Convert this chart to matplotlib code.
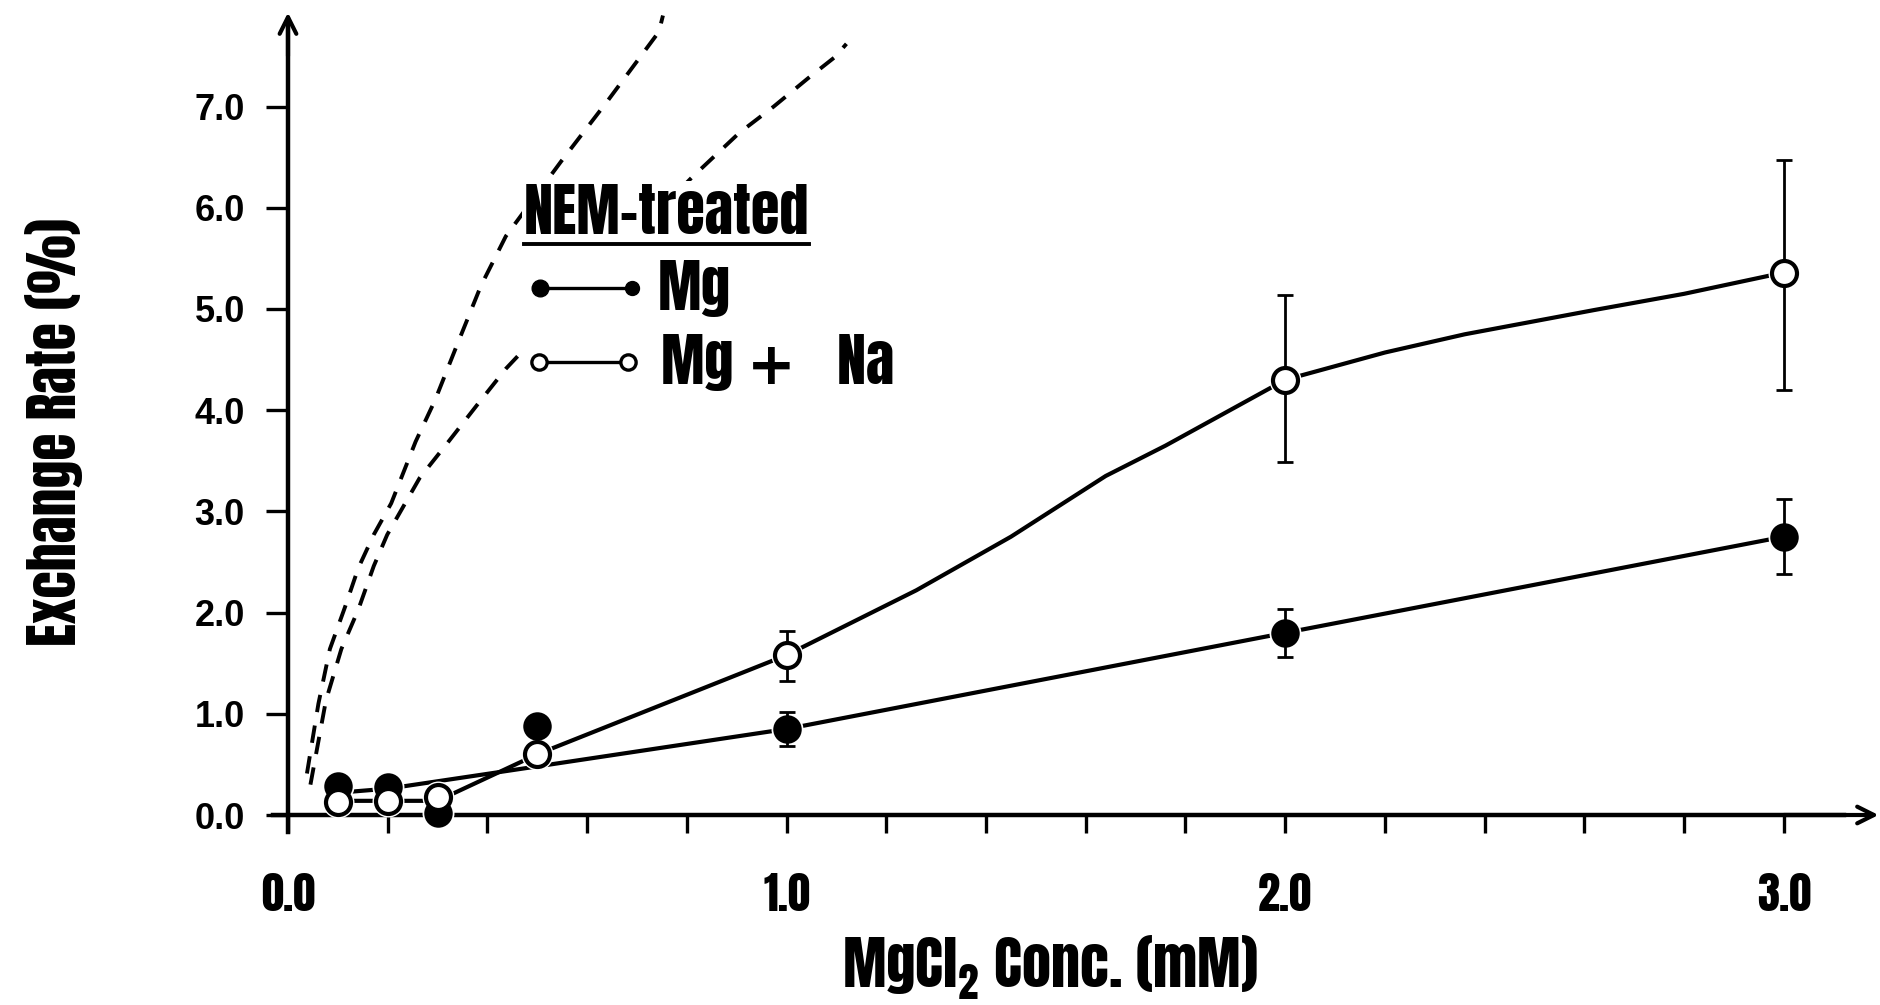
import matplotlib
matplotlib.use("Agg")
import matplotlib.pyplot as plt
from matplotlib.patches import Rectangle

COND = ['Anton', 'Oswald', 'DejaVu Sans']
plt.rcParams['font.family'] = COND
plt.rcParams['mathtext.fontset'] = 'custom'
plt.rcParams['mathtext.rm'] = 'Anton'
plt.rcParams['mathtext.it'] = 'Anton'
plt.rcParams['mathtext.bf'] = 'Anton'
plt.rcParams['mathtext.sf'] = 'DejaVu Sans:bold'

# NEM-treated vesicles: exchange rate (%) vs MgCl2 (mM)
conc = [0.1, 0.2, 0.3, 0.5, 1.0, 2.0, 3.0]
rate_mg = [0.29, 0.28, 0.02, 0.88, 0.85, 1.80, 2.75]
rate_mg_na = [0.13, 0.14, 0.18, 0.60, 1.58, 4.30, 5.36]

# SE only given for the last three concentrations
err_conc = [1.0, 2.0, 3.0]
mg_err = [0.17, 0.24, 0.37]
mg_na_err_lo = [0.26, 0.81, 1.16]
mg_na_err_hi = [0.24, 0.84, 1.11]

# hand-drawn curves through the points
mg_fit_x = [0.1, 0.2, 0.5, 1.0, 2.0, 3.0]
mg_fit_y = [0.22, 0.26, 0.48, 0.85, 1.80, 2.75]
mg_na_fit_x = [0.1, 0.2, 0.3, 0.5, 1.0, 1.26, 1.45, 1.64, 1.76, 2.0, 2.2, 2.36, 2.62, 2.8, 3.0]
mg_na_fit_y = [0.14, 0.14, 0.14, 0.60, 1.58, 2.22, 2.75, 3.35, 3.65, 4.30, 4.57, 4.75, 4.99, 5.15, 5.36]

# dashed curves (untreated controls)
ctrl_a_x = [0.038, 0.061, 0.084, 0.114, 0.141, 0.172, 0.207, 0.256, 0.295, 0.337,
            0.387, 0.437, 0.548, 0.640, 0.744, 0.752]
ctrl_a_y = [0.41, 1.10, 1.64, 2.05, 2.44, 2.77, 3.08, 3.69, 4.10, 4.62,
            5.23, 5.72, 6.46, 7.05, 7.74, 7.90]
ctrl_b_x = [0.045, 0.076, 0.107, 0.141, 0.172, 0.199, 0.264, 0.322, 0.379, 0.437,
            0.55, 0.68, 0.81, 0.905, 0.974, 1.043, 1.097, 1.12]
ctrl_b_y = [0.30, 1.13, 1.64, 2.03, 2.46, 2.77, 3.33, 3.69, 4.05, 4.41,
            5.00, 5.65, 6.30, 6.74, 7.00, 7.28, 7.49, 7.62]

x_ticks = [0, 1, 2, 3]
x_ticklabels = ['0.0', '1.0', '2.0', '3.0']
y_ticks = [0, 1, 2, 3, 4, 5, 6, 7]
y_ticklabels = ['0.0', '1.0', '2.0', '3.0', '4.0', '5.0', '6.0', '7.0']

W, H = 1881, 1005
# pixel position of the origin and size of one unit on each axis
X0, XU = 288, 498.6
Y0, YU = 815, 101.2
xlim = (-0.1, 3.19)
ylim = (-0.4, 8.0)

fig = plt.figure(figsize=(W / 100, H / 100), dpi=100)
left = (X0 + xlim[0] * XU) / W
width = (xlim[1] - xlim[0]) * XU / W
bottom = (H - (Y0 - ylim[0] * YU)) / H
height = (ylim[1] - ylim[0]) * YU / H
ax = fig.add_axes([left, bottom, width, height])
ax.set_xlim(*xlim)
ax.set_ylim(*ylim)

ax.plot(ctrl_a_x, ctrl_a_y, color='k', lw=2.8, dashes=(4.5, 3.5), zorder=1)
ax.plot(ctrl_b_x, ctrl_b_y, color='k', lw=2.8, dashes=(4.5, 3.5), zorder=1)

# blank area behind the key
ax.add_patch(Rectangle((0.47, 4.12), 0.62, 2.14, facecolor='white',
                       edgecolor='none', zorder=2))

ax.plot(mg_fit_x, mg_fit_y, color='k', lw=3.0, zorder=3)
ax.plot(mg_na_fit_x, mg_na_fit_y, color='k', lw=3.0, zorder=3)

# white rings so the lines stop just short of the symbols
ax.plot(conc, rate_mg, 'o', ms=22, mfc='white', mec='white', zorder=4)
ax.plot(conc, rate_mg_na, 'o', ms=22, mfc='white', mec='white', zorder=4)

ax.errorbar(err_conc, rate_mg[-3:], yerr=mg_err, fmt='none', ecolor='k',
            elinewidth=2.0, capsize=6, capthick=2.0, zorder=5)
ax.errorbar(err_conc, rate_mg_na[-3:], yerr=[mg_na_err_lo, mg_na_err_hi],
            fmt='none', ecolor='k', elinewidth=2.0, capsize=6, capthick=2.0, zorder=5)

ax.plot(conc, rate_mg, 'o', ms=18, mfc='k', mec='k', mew=2.5, zorder=6)
ax.plot(conc, rate_mg_na, 'o', ms=18, mfc='white', mec='k', mew=3.0, zorder=6)

# axes drawn through the origin with arrow heads
for s in ['top', 'right']:
    ax.spines[s].set_visible(False)
ax.spines['left'].set_position(('data', 0))
ax.spines['bottom'].set_position(('data', 0))
ax.spines['left'].set_bounds(-0.17, 7.8)
ax.spines['bottom'].set_bounds(-0.03, 3.12)
ax.spines['left'].set_linewidth(3.2)
ax.spines['bottom'].set_linewidth(3.2)
ax.annotate('', xy=(0, 7.93), xytext=(0, 7.5), annotation_clip=False,
            arrowprops=dict(arrowstyle='->', lw=3, color='k', mutation_scale=30,
                            shrinkA=0, shrinkB=0))
ax.annotate('', xy=(3.19, 0), xytext=(3.0, 0), annotation_clip=False,
            arrowprops=dict(arrowstyle='->', lw=3, color='k', mutation_scale=30,
                            shrinkA=0, shrinkB=0))

ax.set_xticks(x_ticks)
ax.set_xticklabels(x_ticklabels, fontsize=32)
ax.set_xticks([i * 0.2 for i in range(1, 16) if i % 5], minor=True)
ax.tick_params(axis='x', which='both', direction='out', length=13, width=2.4, pad=29)
ax.set_yticks(y_ticks)
ax.set_yticklabels(y_ticklabels, fontsize=26, fontweight='bold')
for lbl in ax.get_yticklabels():
    lbl.set_fontfamily(['Liberation Sans', 'DejaVu Sans'])
ax.tick_params(axis='y', direction='out', length=16, width=2.4, pad=15)

fig.text(54 / W, 1 - 432 / H, 'Exchange Rate (%)', rotation=90, ha='center',
         va='center', fontsize=40)
fig.text(1050 / W, 1 - 968 / H, r'MgCl$_{2}$ Conc. (mM)', ha='center',
         va='center', fontsize=42)

# key
title = ax.text(0.473, 5.74, 'NEM-treated', fontsize=42, va='baseline', zorder=7)
ax.plot([0.505, 0.69], [5.21, 5.21], color='k', lw=2.4, zorder=7)
ax.plot([0.505], [5.21], 'o', ms=12, mfc='k', mec='k', zorder=8)
ax.plot([0.69], [5.21], 'o', ms=10, mfc='k', mec='k', zorder=8)
ax.text(0.742, 4.99, 'Mg', fontsize=42, va='baseline', zorder=7)
ax.plot([0.503, 0.682], [4.48, 4.48], color='k', lw=2.4, zorder=7)
ax.plot([0.503, 0.682], [4.48, 4.48], 'o', ms=11, mfc='white', mec='k',
        mew=2.4, zorder=8)
ax.text(0.746, 4.26, r'Mg $\mathsf{+}$   Na', fontsize=42, va='baseline', zorder=7)

fig.canvas.draw()
bb = title.get_window_extent().transformed(ax.transData.inverted())
ax.plot([bb.x0, bb.x1], [5.64, 5.64], color='k', lw=2.8, zorder=7)

fig.savefig('out.png', dpi=100, facecolor='white')
